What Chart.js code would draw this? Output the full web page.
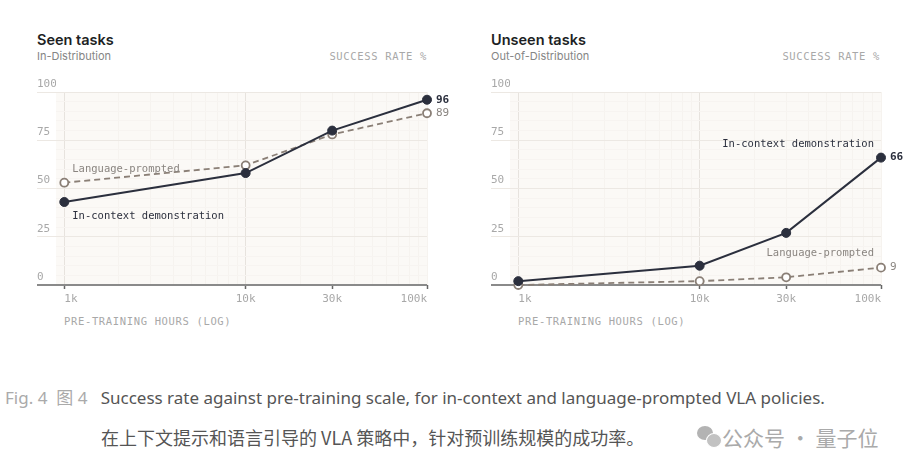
<!DOCTYPE html>
<html>
<head>
<meta charset="utf-8">
<script src="https://cdn.jsdelivr.net/npm/chart.js@4/dist/chart.umd.min.js"></script>
<style>
  body { margin: 0; background: #fff; width: 908px; height: 476px; position: relative; overflow: hidden; font-family: Inter, "Noto Sans", sans-serif; }
  .abs { position: absolute; white-space: nowrap; }
  .title { font-size: 14.5px; font-weight: 600; color: #1d1f24; }
  .sub { font-size: 11px; color: #858585; }
  .mono { font-family: "DejaVu Sans Mono", monospace; font-size: 10.5px; letter-spacing: 0.65px; color: #a8a8a8; }
  canvas { position: absolute; }
  .cap { font-family: "Noto Sans", sans-serif; font-size: 17px; color: #555; }
  .cn { font-family: "Noto Sans CJK SC", sans-serif; font-size: 18px; color: #555; }
  .wm { font-family: "Noto Sans CJK SC", sans-serif; font-size: 21px; color: #aaa; }
</style>
</head>
<body>
<div class="abs title" style="left:37px; top:31px;">Seen tasks</div>
<div class="abs sub" style="left:37px; top:49px;">In-Distribution</div>
<div class="abs mono" style="right:481px; top:50px;">SUCCESS RATE %</div>
<div class="abs mono" style="left:64px; top:315px;">PRE-TRAINING HOURS (LOG)</div>

<div class="abs title" style="left:491px; top:31px;">Unseen tasks</div>
<div class="abs sub" style="left:491px; top:49px;">Out-of-Distribution</div>
<div class="abs mono" style="right:28px; top:50px;">SUCCESS RATE %</div>
<div class="abs mono" style="left:518px; top:315px;">PRE-TRAINING HOURS (LOG)</div>

<canvas id="seenChart" width="420" height="245" style="left:37px; top:66px;"></canvas>
<canvas id="unseenChart" width="420" height="245" style="left:491px; top:66px;"></canvas>

<div class="abs cap" style="left:5px; top:384px;"><span style="color:#aaa;">Fig. 4&nbsp; <span style="font-family:'Noto Sans CJK SC';">图</span> 4</span>&nbsp;&nbsp; Success rate against pre-training scale, for in-context and language-prompted VLA policies.</div>
<div class="abs cn" style="left:101px; top:424px;">在上下文提示和语言引导的 VLA 策略中，针对预训练规模的成功率。</div>
<div class="abs" style="left:697px; top:426px; width:16px; height:14px; border-radius:50%; background:#b3b3b3;"></div>
<div class="abs" style="left:706px; top:433px; width:14px; height:13px; border-radius:50%; background:#c2c2c2; border:1px solid #fff;"></div>
<div class="abs wm" style="left:722px; top:422px;">公众号 · 量子位</div>

<script>
// pre-training hours (log axis)
const hours = [1000, 10000, 30000, 100000];
const hourLabels = ['1k', '10k', '30k', '100k'];

// success rate %
const seenInContext = [43, 58, 80, 96];
const seenLanguage = [53, 62, 78, 89];
const unseenInContext = [2, 10, 27, 66];
const unseenLanguage = [0, 2, 4, 9];

const yTicks = [0, 25, 50, 75, 100];

const darkColor = '#2b2f3d';
const langColor = '#8a7f76';
const monoFont = '"DejaVu Sans Mono", monospace';

function toPoints(values) {
  return values.map((v, i) => ({ x: hours[i], y: v }));
}

// gridline positions for the log axis (minor 2..9 per decade)
function logGridValues() {
  const vals = [];
  for (let e = 3; e <= 5; e++) {
    for (let m = 1; m <= 9; m++) {
      const v = m * Math.pow(10, e);
      if (v <= 100000) vals.push(v);
    }
  }
  return vals;
}

const plotBackground = {
  id: 'plotBackground',
  beforeDraw(chart) {
    const { ctx, chartArea: a } = chart;
    ctx.save();
    ctx.fillStyle = '#fbf9f6';
    ctx.fillRect(a.left, a.top, a.right - a.left, a.bottom - a.top);
    ctx.restore();
  }
};

// text next to lines and end values
const lineNotes = {
  id: 'lineNotes',
  afterDatasetsDraw(chart, args, opts) {
    const { ctx } = chart;
    ctx.save();
    (opts.notes || []).forEach(n => {
      const pt = chart.getDatasetMeta(n.dataset).data[n.index];
      ctx.font = n.font;
      ctx.fillStyle = n.color;
      ctx.textAlign = n.align;
      ctx.textBaseline = 'middle';
      const text = n.text !== undefined ? n.text : String(chart.data.datasets[n.dataset].data[n.index].y);
      ctx.fillText(text, pt.x + n.dx, pt.y + n.dy);
    });
    ctx.restore();
  }
};

function makeConfig(inContext, language, notes) {
  return {
    type: 'line',
    data: {
      datasets: [
        {
          label: 'In-context demonstration',
          data: toPoints(inContext),
          borderColor: darkColor,
          backgroundColor: darkColor,
          borderWidth: 2,
          pointRadius: 4.5,
          pointBackgroundColor: darkColor,
          pointBorderColor: darkColor,
          pointBorderWidth: 1,
          clip: false,
          order: 1
        },
        {
          label: 'Language-prompted',
          data: toPoints(language),
          borderColor: langColor,
          borderWidth: 1.8,
          borderDash: [6, 4],
          pointRadius: 4,
          pointBackgroundColor: '#ffffff',
          pointBorderColor: langColor,
          pointBorderWidth: 1.8,
          clip: false,
          order: 2
        }
      ]
    },
    options: {
      responsive: false,
      animation: false,
      events: [],
      layout: { padding: { left: 0, right: 30, top: 26, bottom: 0 } },
      plugins: {
        legend: { display: false },
        tooltip: { enabled: false },
        lineNotes: { notes }
      },
      scales: {
        x: {
          type: 'logarithmic',
          min: 900,
          max: 100000,
          afterBuildTicks: scale => {
            scale.ticks = logGridValues().map(v => ({ value: v }));
          },
          afterFit: scale => { scale.height = 26; },
          border: { display: false },
          grid: {
            color: c => (c.tick && (c.tick.value === 10000 || c.tick.value === 1000)) ? '#e7e3de' : '#f6f3ef',
            lineWidth: 1,
            tickLength: 4,
            tickColor: c => (c.tick && hours.includes(c.tick.value)) ? '#666' : 'rgba(0,0,0,0)',
            tickWidth: 1.5
          },
          ticks: {
            autoSkip: false,
            maxRotation: 0,
            align: 'inner',
            padding: 4,
            color: '#a8a8a8',
            font: { family: monoFont, size: 11 },
            callback: v => {
              const i = hours.indexOf(v);
              return i >= 0 ? hourLabels[i] : '';
            }
          }
        },
        y: {
          min: 0,
          max: 100,
          afterBuildTicks: scale => {
            const t = [];
            for (let v = 0; v <= 100; v += 5) t.push({ value: v });
            scale.ticks = t;
          },
          afterFit: scale => { scale.width = 19; },
          border: { display: false },
          grid: {
            color: c => {
              const v = c.tick ? c.tick.value : -1;
              if (v === 0) return '#8a8a8a';
              return yTicks.includes(v) ? '#ece8e3' : '#f7f4f1';
            },
            lineWidth: c => (c.tick && c.tick.value === 0) ? 2 : 1,
            tickLength: 19,
            tickColor: c => {
              const v = c.tick ? c.tick.value : -1;
              if (v === 0) return '#8a8a8a';
              return yTicks.includes(v) ? '#ece8e3' : 'rgba(0,0,0,0)';
            },
            tickWidth: c => (c.tick && c.tick.value === 0) ? 2 : 1
          },
          ticks: {
            autoSkip: false,
            crossAlign: 'far',
            labelOffset: -8,
            color: '#a8a8a8',
            font: { family: monoFont, size: 11 },
            callback: v => yTicks.includes(v) ? String(v) : ''
          }
        }
      }
    },
    plugins: [plotBackground, lineNotes]
  };
}

const noteFont = '500 10.5px ' + monoFont;
const endFontDark = '600 11px ' + monoFont;
const endFontLight = '11px ' + monoFont;

new Chart(document.getElementById('seenChart'), makeConfig(seenInContext, seenLanguage, [
  { dataset: 1, index: 0, text: 'Language-prompted', dx: 8, dy: -13, align: 'left', color: '#8a8580', font: noteFont },
  { dataset: 0, index: 0, text: 'In-context demonstration', dx: 8, dy: 14, align: 'left', color: darkColor, font: noteFont },
  { dataset: 0, index: 3, dx: 9, dy: 0, align: 'left', color: darkColor, font: endFontDark },
  { dataset: 1, index: 3, dx: 9, dy: 0, align: 'left', color: '#8a8580', font: endFontLight }
]));

new Chart(document.getElementById('unseenChart'), makeConfig(unseenInContext, unseenLanguage, [
  { dataset: 0, index: 3, text: 'In-context demonstration', dx: -7, dy: -13, align: 'right', color: darkColor, font: noteFont },
  { dataset: 1, index: 3, text: 'Language-prompted', dx: -7, dy: -14, align: 'right', color: '#8a8580', font: noteFont },
  { dataset: 0, index: 3, dx: 9, dy: 0, align: 'left', color: darkColor, font: endFontDark },
  { dataset: 1, index: 3, dx: 9, dy: 0, align: 'left', color: '#8a8580', font: endFontLight }
]));
</script>
</body>
</html>
